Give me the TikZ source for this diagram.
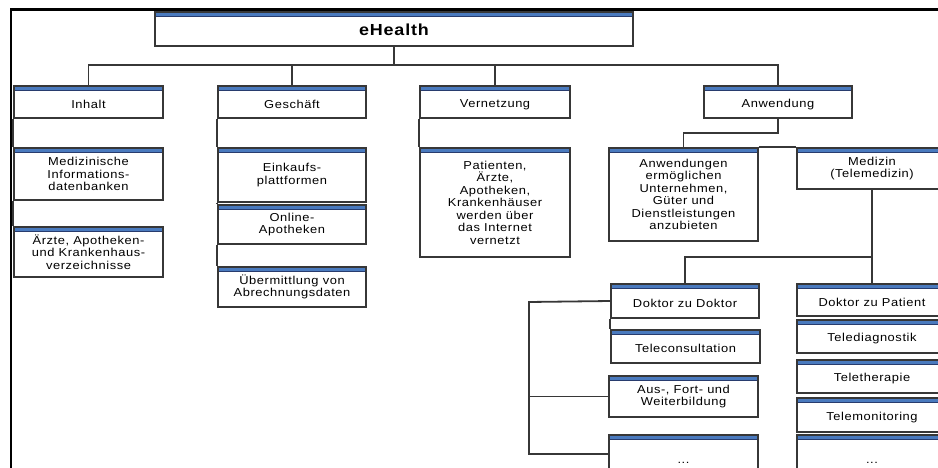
\documentclass[tikz,border=0pt]{standalone}
\usepackage{fontspec}
\setmainfont{Liberation Sans}[LetterSpace=5,FakeStretch=1.12]
\definecolor{bandblue}{RGB}{74,122,190}
\definecolor{bandedge}{RGB}{40,60,110}
\definecolor{boxedge}{RGB}{55,55,55}
\tikzset{
    box/.style={rectangle, draw=boxedge, line width=1.3pt, fill=white, align=center,
        inner sep=0pt, font=\fontsize{11.5}{12.5}\selectfont,
        execute at begin node={\rule{0pt}{12.5pt}},
        path picture={\fill[bandblue, draw=bandedge, line width=0.6pt]
            (path picture bounding box.north west) rectangle
            ([yshift=-4.5pt]path picture bounding box.north east);}},
    edge/.style={-, draw=boxedge, line width=1.8pt},
    frame/.style={draw=black, line width=2.5pt},
}

\begin{document}
\begin{tikzpicture}[x=1pt, y=-1pt]
    \useasboundingbox (0,0) rectangle (938,468);
    \clip (0,0) rectangle (938,468);
    \draw[frame] (11,468) -- (11,9.5) -- (940,9.5);
    % top level
    \node[box, minimum width=478, minimum height=34, font=\fontsize{16}{18}\bfseries] (health) at (394,29) {eHealth};
    \node[box, minimum width=149, minimum height=32] (inhalt) at (88.5,102) {Inhalt};
    \node[box, minimum width=148, minimum height=32] (geschaeft) at (292,102) {Geschäft};
    \node[box, minimum width=150, minimum height=32] (vernetzung) at (495,102) {Vernetzung};
    \node[box, minimum width=148, minimum height=32] (anwendung) at (778,102) {Anwendung};
    % Inhalt
    \node[box, minimum width=149, minimum height=52] (medinfo) at (88.5,174) {Medizinische\\Informations-\\datenbanken};
    \node[box, minimum width=149, minimum height=50] (verzeichnis) at (88.5,252) {Ärzte, Apotheken-\\und Krankenhaus-\\verzeichnisse};
    % Geschaeft
    \node[box, minimum width=148, minimum height=54] (einkauf) at (292,175) {Einkaufs-\\plattformen};
    \node[box, minimum width=148, minimum height=39] (apotheken) at (292,224.5) {Online-\\Apotheken};
    \node[box, minimum width=148, minimum height=40] (abrechnung) at (292,287) {Übermittlung von\\Abrechnungsdaten};
    % Vernetzung
    \node[box, minimum width=150, minimum height=109] (patienten) at (495,202.5) {Patienten,\\Ärzte,\\Apotheken,\\Krankenhäuser\\werden über\\das Internet\\vernetzt};
    % Anwendung
    \node[box, minimum width=149, minimum height=93] (unternehmen) at (683.5,194.5) {Anwendungen\\ermöglichen\\Unternehmen,\\Güter und\\Dienstleistungen\\anzubieten};
    \node[box, minimum width=150, minimum height=41] (medizin) at (872,168.5) {Medizin\\(Telemedizin)};
    % Doktor zu Doktor
    \node[box, minimum width=148, minimum height=34] (dzd) at (685,301) {Doktor zu Doktor};
    \node[box, minimum width=149, minimum height=33] (consult) at (685.5,346.5) {Teleconsultation};
    \node[box, minimum width=149, minimum height=41] (bildung) at (683.5,396.5) {Aus-, Fort- und\\Weiterbildung};
    \node[box, minimum width=149, minimum height=45] (dotsa) at (683.5,457.5) {...};
    % Doktor zu Patient
    \node[box, minimum width=150, minimum height=32] (dzp) at (872,300) {Doktor zu Patient};
    \node[box, minimum width=150, minimum height=33] (diagnostik) at (872,336.5) {Telediagnostik};
    \node[box, minimum width=150, minimum height=33] (therapie) at (872,376.5) {Teletherapie};
    \node[box, minimum width=150, minimum height=34] (monitoring) at (872,415) {Telemonitoring};
    \node[box, minimum width=150, minimum height=45] (dotsb) at (872,457.5) {...};
    % connectors
    \coordinate (hbar) at (394,65);
    \coordinate (abar) at (778,133);
    \coordinate (mbar) at (872,257);
    \coordinate (btop) at (529,302);
    \coordinate (bbot) at (529,454);
    \draw[edge] (health) -- (hbar);
    \draw[edge] (hbar) -| (inhalt);
    \draw[edge] (hbar) -| (geschaeft);
    \draw[edge] (hbar) -| (vernetzung);
    \draw[edge] (hbar) -| (anwendung);
    \draw[edge] (inhalt.south west) -- (medinfo.north west);
    \draw[edge] (medinfo.south west) -- (verzeichnis.north west);
    \draw[edge] (geschaeft.south west) -- (einkauf.north west);
    \draw[edge] (einkauf.south west) -- (apotheken.north west);
    \draw[edge] (apotheken.south west) -- (abrechnung.north west);
    \draw[edge] (vernetzung.south west) -- (patienten.north west);
    \draw[edge] (anwendung) -- (abar) -| (unternehmen);
    \draw[edge] (unternehmen.north east) -- (medizin.north west);
    \draw[edge] (medizin) -- (mbar) -| (dzd);
    \draw[edge] (mbar) -- (dzp);
    \draw[edge] (dzd.south west) -- (consult.north west);
    \draw[edge] (dzd.west) -- (btop) -- (bbot) -- (dotsa.west |- bbot);
    \draw[edge] (bildung.west) -- (bildung.west -| btop);
\end{tikzpicture}
\end{document}
